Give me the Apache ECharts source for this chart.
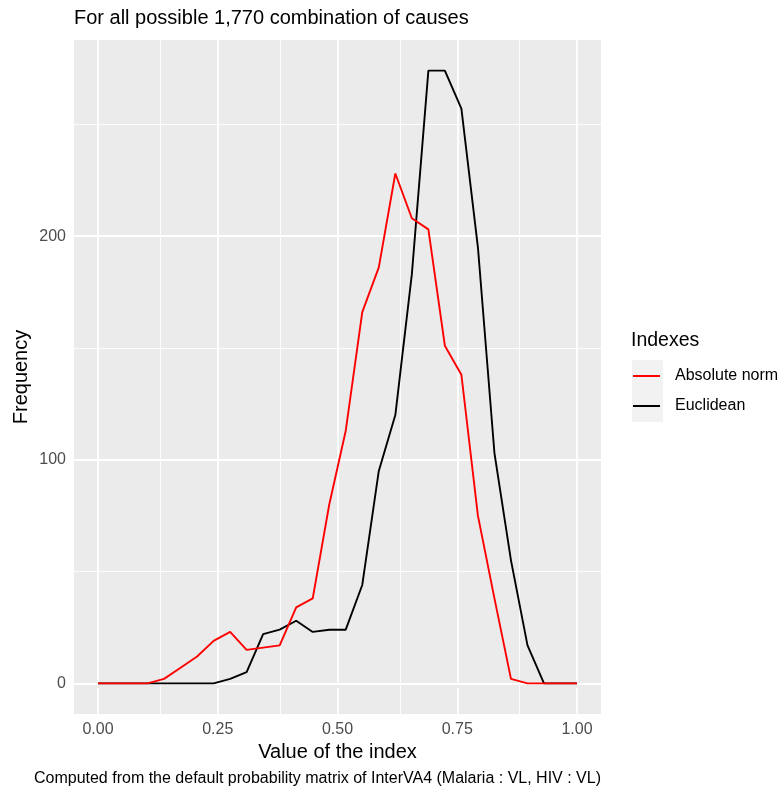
<!DOCTYPE html>
<html>
<head>
<meta charset="utf-8">
<script src="https://cdn.jsdelivr.net/npm/echarts@6/dist/echarts.min.js"></script>
<style>
html,body{margin:0;padding:0;background:#fff;}
#chart{width:782px;height:789px;}
</style>
</head>
<body>
<div id="chart"></div>
<script>
// ---- data ----
const indexValues = [0, 0.0345, 0.069, 0.1034, 0.1379, 0.1724, 0.2069, 0.2414, 0.2759, 0.3103,
  0.3448, 0.3793, 0.4138, 0.4483, 0.4828, 0.5172, 0.5517, 0.5862, 0.6207, 0.6552,
  0.6897, 0.7241, 0.7586, 0.7931, 0.8276, 0.8621, 0.8966, 0.931, 0.9655, 1];
const absoluteNorm = [0, 0, 0, 0, 2, 7, 12, 19, 23, 15, 16, 17, 34, 38, 80, 113, 166, 186, 228, 208,
  203, 151, 138, 75, 38, 2, 0, 0, 0, 0];
const euclidean = [0, 0, 0, 0, 0, 0, 0, 0, 2, 5, 22, 24, 28, 23, 24, 24, 44, 95, 120, 183,
  274, 274, 257, 195, 103, 55, 17, 0, 0, 0];
const seriesNames = ['Absolute norm', 'Euclidean'];
const xTicks = [0, 0.25, 0.5, 0.75, 1];
const xMinor = [0.125, 0.375, 0.625, 0.875];
const yTicks = [0, 100, 200];
const yMinor = [50, 150, 250];
const titleText = 'For all possible 1,770 combination of causes';
const captionText = 'Computed from the default probability matrix of InterVA4 (Malaria : VL, HIV : VL)';
const xTitle = 'Value of the index';
const yTitle = 'Frequency';
const legendTitle = 'Indexes';

const FONT = '"Liberation Sans", Arial, sans-serif';
const chart = echarts.init(document.getElementById('chart'), null, {renderer: 'canvas'});

const pairs = arr => arr.map((v, i) => [indexValues[i], v]);
const gridLines = [];
xTicks.forEach(v => gridLines.push({xAxis: v, lineStyle: {color: '#fff', width: 1.8, type: 'solid'}}));
xMinor.forEach(v => gridLines.push({xAxis: v, lineStyle: {color: '#fff', width: 0.9, type: 'solid'}}));
yTicks.forEach(v => gridLines.push({yAxis: v, lineStyle: {color: '#fff', width: 1.8, type: 'solid'}}));
yMinor.forEach(v => gridLines.push({yAxis: v, lineStyle: {color: '#fff', width: 0.9, type: 'solid'}}));

const option = {
  animation: false,
  textStyle: {fontFamily: FONT},
  title: [
    {text: titleText, left: 74, top: 8, padding: 0,
     textStyle: {fontSize: 20, fontWeight: 'normal', color: '#000', fontFamily: FONT}},
    {text: captionText, right: 181, top: 771, padding: 0,
     textStyle: {fontSize: 16, fontWeight: 'normal', color: '#000', fontFamily: FONT}}
  ],
  grid: {left: 74, right: 181, top: 40, bottom: 75, show: true, backgroundColor: '#EBEBEB', borderWidth: 0},
  xAxis: {
    type: 'value', min: -0.05, max: 1.05,
    axisLine: {show: false},
    splitLine: {show: false},
    axisTick: {show: true, length: 5, lineStyle: {color: '#333333', width: 1.8}, customValues: xTicks},
    axisLabel: {customValues: xTicks, formatter: v => v.toFixed(2), color: '#4D4D4D', fontSize: 16, margin: 8, fontFamily: FONT},
    name: xTitle, nameLocation: 'middle', nameGap: 24,
    nameTextStyle: {fontSize: 20, color: '#000', fontFamily: FONT}
  },
  yAxis: {
    type: 'value', min: -13.7, max: 287.7,
    axisLine: {show: false},
    splitLine: {show: false},
    axisTick: {show: true, length: 5, lineStyle: {color: '#333333', width: 1.8}, customValues: yTicks},
    axisLabel: {customValues: yTicks, color: '#4D4D4D', fontSize: 16, margin: 8, fontFamily: FONT}
  },
  legend: {
    data: seriesNames,
    orient: 'vertical', left: 633, top: 361,
    icon: 'rect', itemWidth: 27, itemHeight: 2, itemGap: 0,
    padding: 0,
    textStyle: {fontSize: 16, color: '#000', lineHeight: 30, padding: [0, 0, 0, 10], fontFamily: FONT},
    selectedMode: false
  },
  graphic: [
    {type: 'rect', left: 632, top: 360, z: 0, shape: {width: 31, height: 62}, style: {fill: '#F2F2F2'}},
    {type: 'text', left: 631, top: 331, z: 5, style: {text: legendTitle, fontSize: 19.5, fill: '#000', fontFamily: FONT}},
    {type: 'text', x: 21, y: 377, rotation: Math.PI / 2, z: 5,
     style: {text: yTitle, fontSize: 20, fill: '#000', fontFamily: FONT, align: 'center', verticalAlign: 'middle'}}
  ],
  series: [
    {
      name: '_grid', type: 'line', data: [], z: 1, silent: true, showSymbol: false,
      markLine: {silent: true, z: 1, symbol: 'none', label: {show: false}, animation: false, data: gridLines}
    },
    {
      name: seriesNames[1], type: 'line', data: pairs(euclidean), z: 2,
      showSymbol: false, color: '#000000', lineStyle: {color: '#000000', width: 1.9}, silent: true
    },
    {
      name: seriesNames[0], type: 'line', data: pairs(absoluteNorm), z: 3,
      showSymbol: false, color: '#FF0000', lineStyle: {color: '#FF0000', width: 1.9}, silent: true
    }
  ]
};
chart.setOption(option);
</script>
</body>
</html>
